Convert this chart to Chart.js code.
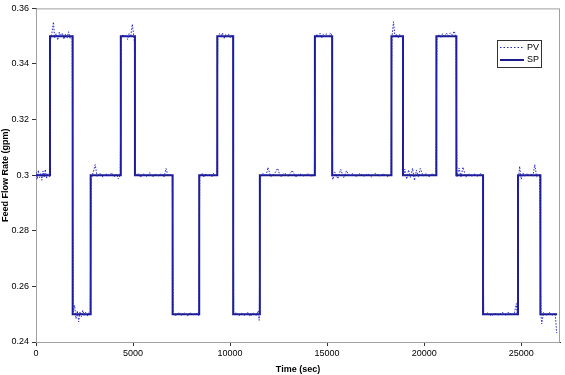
<!DOCTYPE html>
<html lang="en">
<head>
    <meta charset="UTF-8">
    <title>Feed Flow Rate</title>
    <script src="https://cdn.jsdelivr.net/npm/chart.js"></script>
    <style>
        html, body { margin: 0; padding: 0; background: #fff; }
        #flowChart { display: block; }
    </style>
</head>
<body>
    <canvas id="flowChart" width="565" height="375"></canvas>

    <script>
        // Setpoint: start time of each step and its level (last entry = end of record)
        const spTime = [0, 721, 1890, 2817, 4370, 5098, 7040, 8410, 9340, 10160,
                        11535, 14370, 15260, 18315, 18910, 20630, 21660, 23035, 24835, 25990, 26850];
        const spValue = [0.30, 0.35, 0.25, 0.30, 0.35, 0.30, 0.25, 0.30, 0.35, 0.25,
                         0.30, 0.35, 0.30, 0.35, 0.30, 0.35, 0.30, 0.25, 0.30, 0.25, 0.25];

        // Process variable
        const pvTime = [
            0, 60, 120, 180, 240, 300, 360, 420, 480, 540, 600, 690,
            750, 820, 900, 960, 1040, 1120, 1200, 1280, 1360, 1440, 1520, 1600, 1680, 1760, 1860,
            1920, 1990, 2060, 2130, 2200, 2270, 2340, 2410, 2480, 2560, 2640, 2720, 2790,
            2850, 2950, 3050, 3150, 3300, 3450, 3600, 3750, 3900, 4050, 4150, 4250, 4340,
            4400, 4480, 4560, 4640, 4720, 4800, 4880, 4960, 5040, 5070,
            5130, 5250, 5400, 5550, 5700, 5850, 6000, 6150, 6300, 6450, 6600, 6700, 6800, 6950, 7020,
            7070, 7200, 7350, 7500, 7650, 7800, 7950, 8100, 8250, 8380,
            8440, 8550, 8650, 8750, 8850, 8950, 9050, 9150, 9250, 9320,
            9370, 9450, 9530, 9610, 9690, 9770, 9850, 9930, 10010, 10090, 10140,
            10190, 10300, 10450, 10600, 10750, 10900, 11050, 11200, 11350, 11450, 11500,
            11570, 11700, 11850, 11950, 12100, 12300, 12450, 12600, 12800, 13000, 13200, 13400, 13600, 13800, 14000, 14200, 14340,
            14400, 14480, 14560, 14640, 14720, 14800, 14880, 14960, 15040, 15120, 15200, 15240,
            15290, 15400, 15550, 15700, 15850, 16000, 16150, 16300, 16500, 16700, 16900, 17100, 17300, 17500, 17700, 17900, 18100, 18290,
            18340, 18420, 18500, 18580, 18660, 18740, 18820, 18890,
            18940, 19000, 19100, 19200, 19300, 19400, 19500, 19600, 19700, 19800, 19950, 20100, 20250, 20400, 20600,
            20660, 20750, 20850, 20950, 21050, 21150, 21250, 21350, 21450, 21550, 21640,
            21690, 21800, 21900, 22000, 22150, 22300, 22450, 22600, 22750, 22900, 23010,
            23070, 23250, 23450, 23650, 23850, 24050, 24200, 24350, 24500, 24650, 24750, 24800,
            24870, 24920, 25000, 25100, 25200, 25300, 25400, 25500, 25600, 25700, 25800, 25950,
            26020, 26060, 26150, 26300, 26450, 26600, 26750, 26830
        ];
        const pvValue = [
            0.3012, 0.2985, 0.3018, 0.2991, 0.3008, 0.2982, 0.3015, 0.2994, 0.3021, 0.2988, 0.3006, 0.2993,
            0.3488, 0.3512, 0.3551, 0.3494, 0.3509, 0.3486, 0.3515, 0.3497, 0.3511, 0.3489, 0.3508, 0.3493, 0.3516, 0.3491, 0.3504,
            0.2508, 0.2532, 0.2484, 0.2512, 0.2473, 0.2509, 0.2491, 0.2514, 0.2496, 0.2507, 0.2492, 0.2505, 0.2497,
            0.2987, 0.3011, 0.3038, 0.2996, 0.3008, 0.2993, 0.3005, 0.2997, 0.3009, 0.2994, 0.3004, 0.2986, 0.3003,
            0.3492, 0.3507, 0.3496, 0.3504, 0.3488, 0.3509, 0.3497, 0.3543, 0.3502, 0.3478,
            0.2996, 0.3007, 0.2992, 0.3005, 0.2995, 0.3009, 0.2993, 0.3004, 0.2997, 0.3006, 0.2994, 0.3024, 0.2998, 0.3003, 0.2995,
            0.2503, 0.2494, 0.2507, 0.2496, 0.2505, 0.2493, 0.2506, 0.2497, 0.2504, 0.2495,
            0.2992, 0.3008, 0.2994, 0.3006, 0.2996, 0.3004, 0.2993, 0.3007, 0.2997, 0.3003,
            0.3494, 0.3509, 0.3497, 0.3512, 0.3491, 0.3506, 0.3499, 0.3508, 0.3493, 0.3505, 0.3497,
            0.2497, 0.2506, 0.2494, 0.2503, 0.2495, 0.2507, 0.2492, 0.2504, 0.2496, 0.2512, 0.2478,
            0.2994, 0.3007, 0.2996, 0.3028, 0.2995, 0.3006, 0.3025, 0.2993, 0.3008, 0.2996, 0.3017, 0.2994, 0.3005, 0.2997, 0.3006, 0.2995, 0.3003,
            0.3493, 0.3508, 0.3496, 0.3511, 0.3494, 0.3506, 0.3498, 0.3509, 0.3495, 0.3507, 0.3512, 0.3496,
            0.2984, 0.3012, 0.2987, 0.3021, 0.2991, 0.3016, 0.2995, 0.3006, 0.2994, 0.3007, 0.2996, 0.3005, 0.2993, 0.3008, 0.2997, 0.3004, 0.2995, 0.3003,
            0.3496, 0.3552, 0.3497, 0.3508, 0.3494, 0.3506, 0.3499, 0.3503,
            0.2995, 0.3022, 0.2986, 0.3019, 0.2992, 0.3025, 0.2981, 0.3018, 0.2994, 0.3024, 0.2997, 0.3006, 0.2993, 0.3005, 0.2998,
            0.3492, 0.3506, 0.3496, 0.3509, 0.3498, 0.3511, 0.3501, 0.3512, 0.3504, 0.3518, 0.3497,
            0.2995, 0.3026, 0.2994, 0.3029, 0.2993, 0.3006, 0.2996, 0.3004, 0.2995, 0.3007, 0.2997,
            0.2496, 0.2505, 0.2494, 0.2503, 0.2496, 0.2507, 0.2494, 0.2508, 0.2497, 0.2505, 0.2538, 0.2497,
            0.2993, 0.3032, 0.2985, 0.3008, 0.2994, 0.3006, 0.2997, 0.3005, 0.2996, 0.3038, 0.2994, 0.3003,
            0.2497, 0.2465, 0.2506, 0.2495, 0.2507, 0.2496, 0.2504, 0.2432
        ];

        const yTicks = [0.24, 0.26, 0.28, 0.30, 0.32, 0.34, 0.36];
        const xTicks = [0, 5000, 10000, 15000, 20000, 25000];

        const FONT = "'Liberation Sans', Arial, sans-serif";
        Chart.defaults.font.family = FONT;
        Chart.defaults.font.size = 9;
        Chart.defaults.color = "#000";

        const pvColor = "#2424c8";
        const spColor = "#1c1c8f";

        // Grey frame round the plot area, like the Excel chart
        const frame = {
            id: "frame",
            beforeDatasetsDraw(chart) {
                const { ctx, chartArea: a } = chart;
                ctx.save();
                ctx.strokeStyle = "#a0a0a0";
                ctx.lineWidth = 1;
                ctx.strokeRect(a.left + 0.5, a.top + 0.5, a.right - a.left - 1, a.bottom - a.top);
                ctx.restore();
            }
        };

        // Boxed legend inside the plot, top right
        const boxLegend = {
            id: "boxLegend",
            afterDraw(chart) {
                const ctx = chart.ctx;
                const x = 497, y = 40, w = 44, h = 27;
                ctx.save();
                ctx.fillStyle = "#fff";
                ctx.fillRect(x, y, w, h);
                ctx.strokeStyle = "#333";
                ctx.lineWidth = 1;
                ctx.strokeRect(x + 0.5, y + 0.5, w, h);
                ctx.font = "9px " + FONT;
                ctx.fillStyle = "#000";
                ctx.textBaseline = "middle";

                ctx.strokeStyle = pvColor;
                ctx.setLineDash([1.5, 2]);
                ctx.beginPath();
                ctx.moveTo(500, y + 7.5);
                ctx.lineTo(524, y + 7.5);
                ctx.stroke();
                ctx.fillText("PV", 527, y + 7.5);

                ctx.setLineDash([]);
                ctx.strokeStyle = spColor;
                ctx.lineWidth = 2;
                ctx.beginPath();
                ctx.moveTo(500, y + 20);
                ctx.lineTo(524, y + 20);
                ctx.stroke();
                ctx.fillText("SP", 527, y + 20);
                ctx.restore();
            }
        };

        const pvPoints = pvTime.map((t, i) => ({ x: t, y: pvValue[i] }));
        const spPoints = spTime.map((t, i) => ({ x: t, y: spValue[i] }));

        new Chart(document.getElementById("flowChart"), {
            type: "scatter",
            data: {
                datasets: [
                    {
                        label: "PV",
                        data: pvPoints,
                        showLine: true,
                        borderColor: pvColor,
                        borderWidth: 1,
                        borderDash: [1.5, 1.5],
                        pointRadius: 0
                    },
                    {
                        label: "SP",
                        data: spPoints,
                        showLine: true,
                        stepped: "before",
                        borderColor: spColor,
                        borderWidth: 2,
                        pointRadius: 0
                    }
                ]
            },
            options: {
                responsive: false,
                animation: false,
                devicePixelRatio: 1,
                layout: { padding: { top: 4, right: 5, left: 0, bottom: 0 } },
                plugins: {
                    legend: { display: false },
                    tooltip: { enabled: false }
                },
                scales: {
                    x: {
                        type: "linear",
                        min: 0,
                        max: 27000,
                        afterFit: s => { s.height = 33; },
                        afterBuildTicks: s => { s.ticks = xTicks.map(v => ({ value: v })); },
                        ticks: {
                            callback: v => String(v),
                            padding: 2,
                            maxRotation: 0
                        },
                        grid: { drawOnChartArea: false, drawTicks: true, tickLength: 4, color: "#333" },
                        border: { color: "#333", width: 1 },
                        title: {
                            display: true,
                            text: "Time (sec)",
                            font: { size: 9, weight: "bold" },
                            padding: { top: 3, bottom: 0 }
                        }
                    },
                    y: {
                        min: 0.24,
                        max: 0.36,
                        afterFit: s => { s.width = 36; },
                        afterBuildTicks: s => { s.ticks = yTicks.map(v => ({ value: v })); },
                        ticks: {
                            callback: v => String(parseFloat(v.toFixed(2))),
                            padding: 3
                        },
                        grid: { drawOnChartArea: false, drawTicks: true, tickLength: 4, color: "#333" },
                        border: { color: "#333", width: 1 },
                        title: {
                            display: true,
                            text: "Feed Flow Rate (gpm)",
                            font: { size: 9, weight: "bold" },
                            padding: { top: 0, bottom: 2 }
                        }
                    }
                }
            },
            plugins: [frame, boxLegend]
        });
    </script>
</body>
</html>
